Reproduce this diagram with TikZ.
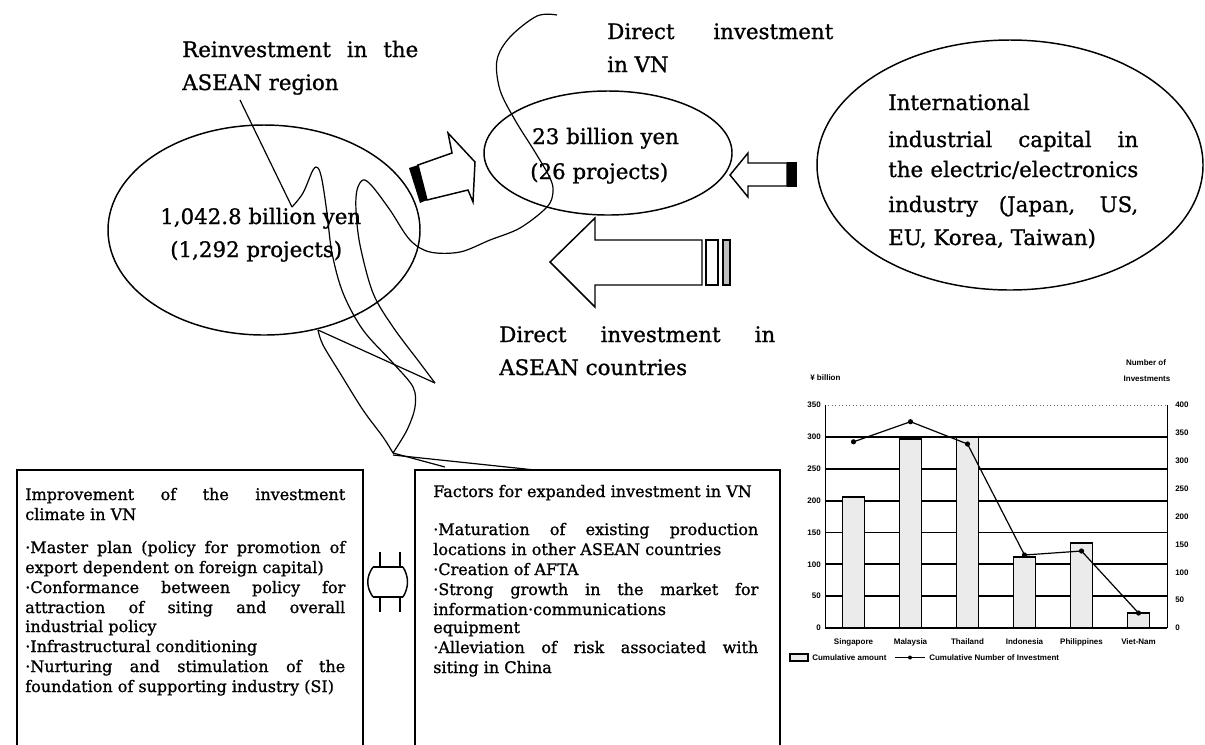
\documentclass[tikz,border=0pt]{standalone}
\usepackage{fontspec}
\setmainfont{DejaVu Serif}[FakeBold=1.0]
\newfontfamily\chartfont{Liberation Sans}
\newlength{\pxu}\setlength{\pxu}{0.75pt}
\newcommand{\jl}[2]{\makebox[#1\pxu][s]{#2}}
\begin{document}
\begin{tikzpicture}[x=0.75pt,y=-0.75pt,
  big/.style={font=\fontsize{16}{20}\selectfont,anchor=base west,inner sep=0pt},
  sm/.style={font=\fontsize{12}{15}\selectfont,anchor=base west,inner sep=0pt},
  ln/.style={line width=1.1pt},
  scrib/.style={line width=0.9pt},
  ct/.style={font=\chartfont\bfseries\fontsize{6}{7}\selectfont,inner sep=0pt},
  gridln/.style={line width=1.4pt},
  barbox/.style={draw,line width=1.4pt,fill=black!8},
]
\useasboundingbox (0,0) rectangle (1205,744);
\fill[white] (0,0) rectangle (1205,744);

% ellipses
\draw[ln] (264,230) ellipse [x radius=156, y radius=105];
\draw[ln] (608,153) ellipse [x radius=124, y radius=62];
\draw[ln] (1010,165) ellipse [x radius=193, y radius=125];

% scribbles
\draw[scrib] plot[smooth,tension=0.55] coordinates {(557,15) (537,16) (510,37) (497,60) (500,90) (515,120) (535,152) (550,178) (553,192) (547,207) (520,228) (490,240) (460,252) (430,252) (410,240) (390,210) (372,186) (363,180) (357,190) (356,210) (360,245) (373,293) (393,327) (420,363) (435,383)};
\draw[scrib] (435,383) -- (318,330);
\draw[scrib] plot[smooth,tension=0.55] coordinates {(318,330) (323,345) (340,373) (363,410) (383,437) (393,453)};
\draw[scrib] (240,100) -- (292,207);
\draw[scrib] plot[smooth,tension=0.55] coordinates {(292,207) (303,193) (313,170) (318,168) (322,180) (327,213) (332,253) (343,293) (363,330) (393,363) (413,387) (415,407) (407,430) (393,453)};
\draw[scrib] (393,453) -- (445,467);
\draw[scrib] (393,455) -- (535,470);

% tilted arrow
\draw[ln,fill=white] (418,165) -- (452,153) -- (448,133) -- (475,162) -- (473,202) -- (468,190) -- (427,200) -- cycle;
\fill (409,168) -- (418,165) -- (427,200) -- (420,203) -- cycle;
% small arrow from right
\draw[ln,fill=white] (730,175) -- (748,153) -- (748,163) -- (787,163) -- (787,186) -- (748,186) -- (748,197) -- cycle;
\fill (787,162) rectangle (797,187);
% big arrow to left
\draw[ln,fill=white] (550,262) -- (595,218) -- (595,240) -- (702,240) -- (702,285) -- (595,285) -- (595,307) -- cycle;
\draw[ln] (706,240) rectangle (718,285);
\draw[ln,fill=black!25] (723,240) rectangle (730,285);

% double arrow between boxes
\draw[ln] (380,552) -- (380,567);
\draw[ln] (380,597) -- (380,612);
\draw[ln] (400,552) -- (400,567);
\draw[ln] (400,597) -- (400,612);
\draw[ln] (373,567) -- (403,567);
\draw[ln] (373,597) -- (403,597);
\draw[ln] (373,567) .. controls (366,577) and (366,587) .. (373,597);
\draw[ln] (403,567) .. controls (409,577) and (409,587) .. (403,597);

% boxes
\draw[ln] (17,752) -- (17,470) -- (363,470) -- (363,752);
\draw[ln] (415,752) -- (415,470) -- (780,470) -- (780,752);

% texts
\node[big] (r1) at (182,57) {\jl{236}{Reinvestment in the}};
\node[big] (r2) at (182,90) {ASEAN region};
\node[big] (d1) at (607,39) {\jl{226}{Direct investment}};
\node[big] (d2) at (607,72) {in VN};
\node[big] (a1) at (499,342) {\jl{276}{Direct investment in}};
\node[big] (a2) at (499,375) {ASEAN countries};
\node[big] (e1) at (160,224) {1,042.8 billion yen};
\node[big] (e2) at (170,257) {(1,292 projects)};
\node[big] (m1) at (532,144) {23 billion yen};
\node[big] (m2) at (530,179) {(26 projects)};
\node[big] (i1) at (888,110) {International};
\node[big] (i2) at (888,147) {\jl{250}{industrial capital in}};
\node[big] (i3) at (888,177) {\jl{250}{the electric/electronics}};
\node[big] (i4) at (888,212) {\jl{250}{industry (Japan, US,}};
\node[big] (i5) at (888,245) {EU, Korea, Taiwan)};

\node[sm] (b1) at (25,500) {\jl{320}{Improvement of the investment}};
\node[sm] (b2) at (25,520) {climate in VN};
\node[sm] (b3) at (25,553) {\jl{320}{·Master plan (policy for promotion of}};
\node[sm] (b4) at (25,573) {export dependent on foreign capital)};
\node[sm] (b5) at (25,593) {\jl{320}{·Conformance between policy for}};
\node[sm] (b6) at (25,613) {\jl{320}{attraction of siting and overall}};
\node[sm] (b7) at (25,632) {industrial policy};
\node[sm] (b8) at (25,652) {·Infrastructural conditioning};
\node[sm] (b9) at (25,672) {\jl{320}{·Nurturing and stimulation of the}};
\node[sm] (b10) at (25,692) {foundation of supporting industry (SI)};

\node[sm] (c1) at (433,497) {Factors for expanded investment in VN};
\node[sm] (c2) at (433,535) {\jl{325}{·Maturation of existing production}};
\node[sm] (c3) at (433,555) {locations in other ASEAN countries};
\node[sm] (c4) at (433,575) {·Creation of AFTA};
\node[sm] (c5) at (433,595) {\jl{325}{·Strong growth in the market for}};
\node[sm] (c6) at (433,615) {information·communications};
\node[sm] (c7) at (433,633) {equipment};
\node[sm] (c8) at (433,653) {\jl{325}{·Alleviation of risk associated with}};
\node[sm] (c9) at (433,673) {siting in China};

% chart
\foreach \v in {50,100,...,300} \draw[gridln] (825,{628-0.6371*\v}) -- (1167,{628-0.6371*\v});
\draw[dotted,line width=0.6pt,black!60] (825,405) -- (1167,405);
\draw[line width=0.6pt] (825,405) -- (825,628);
\draw[line width=0.6pt] (1167,405) -- (1167,628);
\foreach \c/\v in {853.5/205, 910.5/296, 967.5/300, 1024.5/111, 1081.5/134, 1138.5/23}
  \draw[barbox] (\c-11,628) rectangle (\c+11,{628-0.6371*\v});
\draw[gridln] (825,628) -- (1167,628);
\draw[line width=0.9pt] (853.5,441.8) -- (910.5,421.7) -- (967.5,444) -- (1024.5,555) -- (1081.5,551) -- (1138.5,613);
\foreach \x/\y in {853.5/441.8, 910.5/421.7, 967.5/444, 1024.5/555, 1081.5/551, 1138.5/613}
  \fill (\x,\y) circle[radius=2.6];
\foreach \v in {0,50,...,350} \node[ct,anchor=east] (yl\v) at (821,{628-0.6371*\v}) {\v};
\foreach \v in {0,50,...,400} \node[ct,anchor=west] (yr\v) at (1175,{628-0.5575*\v}) {\v};
\node[ct,anchor=west] (yu) at (810,378) {¥ billion};
\node[ct] (n1) at (1146,363) {Number of};
\node[ct] (n2) at (1147,379) {Investments};
\foreach \c/\t [count=\i] in {853.5/Singapore, 910.5/Malaysia, 967.5/Thailand, 1024.5/Indonesia, 1081.5/Philippines, 1138.5/Viet-Nam}
  \node[ct] (xl\i) at (\c,642) {\t};
\draw[line width=0.8pt,fill=black!8] (790,654) rectangle (808,661);
\node[ct,anchor=west] (lg1) at (812,657.5) {Cumulative amount};
\draw[line width=0.8pt] (895,657.5) -- (925,657.5);
\fill (910,657.5) circle[radius=2];
\node[ct,anchor=west] (lg2) at (929,657.5) {Cumulative Number of Investment};
\end{tikzpicture}
\end{document}
